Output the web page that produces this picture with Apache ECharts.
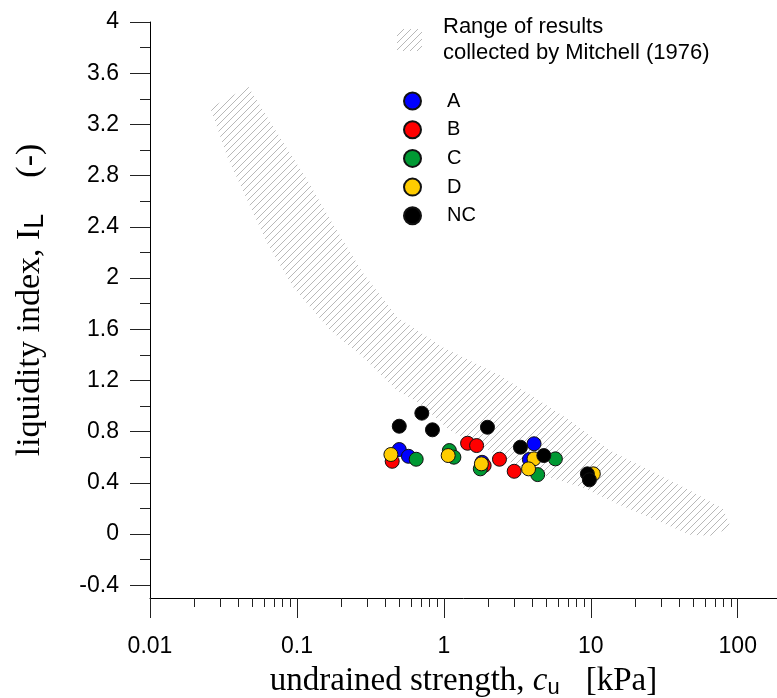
<!DOCTYPE html>
<html>
<head>
<meta charset="utf-8">
<script src="https://cdn.jsdelivr.net/npm/echarts@6/dist/echarts.min.js"></script>
<style>
  html, body { margin: 0; padding: 0; background: #fff; }
  #chart { width: 777px; height: 698px; }
</style>
</head>
<body>
<div id="chart"></div>
<script>
// ---- Data: undrained strength cu [kPa] and liquidity index IL per sample group ----
const groupNames  = ['A', 'B', 'C', 'D', 'NC'];
const groupColors = ['#0000ff', '#ff0000', '#009933', '#ffcc00', '#000000'];

const cuA  = [0.497, 0.574, 1.82, 4.11, 3.82];
const ilA  = [0.660, 0.607, 0.560, 0.705, 0.582];
const cuB  = [0.445, 1.45, 1.67, 1.88, 2.39, 3.01];
const ilB  = [0.568, 0.709, 0.691, 0.535, 0.584, 0.490];
const cuC  = [0.648, 1.09, 1.17, 1.77, 5.74, 4.35];
const ilC  = [0.584, 0.652, 0.600, 0.509, 0.587, 0.464];
const cuD  = [0.436, 1.07, 1.80, 4.11, 3.77, 10.4];
const ilD  = [0.621, 0.613, 0.548, 0.587, 0.509, 0.470];
const cuNC = [0.708, 0.497, 0.836, 1.98, 3.32, 4.79, 9.48, 9.78];
const ilNC = [0.944, 0.842, 0.814, 0.834, 0.678, 0.613, 0.470, 0.423];

// Outline of the Mitchell (1976) range: upper edge left->right, then lower edge right->left
const bandCu = [0.0257, 0.0467, 0.0734, 0.1175, 0.174, 0.2825, 0.481, 0.989, 2.415, 7.23,
                13.5, 25.3, 47.3, 79.4, 90.0,
                64.9, 47.3, 25.3, 15.1, 8.87, 5.55, 3.30, 1.85, 1.10, 0.690, 0.481,
                0.2825, 0.1687, 0.0944, 0.0628, 0.0459, 0.0336, 0.0265];
const bandIL = [3.329, 3.494, 3.133, 2.766, 2.429, 2.038, 1.693, 1.458, 1.239, 0.887,
                0.652, 0.496, 0.339, 0.198, 0.049,
                -0.013, -0.005, 0.128, 0.237, 0.362, 0.433, 0.519, 0.676, 0.809, 1.020, 1.122,
                1.380, 1.591, 1.928, 2.272, 2.609, 2.946, 3.290];
const bandName = 'Range of results\ncollected by Mitchell (1976)';

// ---- Axis ticks ----
const xMin = 0.01, xMax = 185;
const xMajorValues = [0.01, 0.1, 1, 10, 100];
const xMajorLabels = ['0.01', '0.1', '1', '10', '100'];
const xMinorValues = [0.02, 0.03, 0.04, 0.05, 0.06, 0.07, 0.08, 0.09,
                      0.2, 0.3, 0.4, 0.5, 0.6, 0.7, 0.8, 0.9,
                      2, 3, 4, 5, 6, 7, 8, 9,
                      20, 30, 40, 50, 60, 70, 80, 90];
const yMin = -0.5, yMax = 4;
const yMajorValues = [-0.4, 0, 0.4, 0.8, 1.2, 1.6, 2, 2.4, 2.8, 3.2, 3.6, 4];
const yMinorValues = [-0.2, 0.2, 0.6, 1.0, 1.4, 1.8, 2.2, 2.6, 3.0, 3.4, 3.8];

const SANS = 'Arial, "Liberation Sans", sans-serif';
const SERIF = '"Times New Roman", "Liberation Serif", serif';

// Diagonal hatch tile used for the range band
function makeHatch() {
  const t = 7;
  const c = document.createElement('canvas');
  c.width = t; c.height = t;
  const g = c.getContext('2d');
  g.strokeStyle = '#b8b8b8';
  g.lineWidth = 1;
  g.beginPath();
  g.moveTo(0, t); g.lineTo(t, 0);
  g.moveTo(-1, 1); g.lineTo(1, -1);
  g.moveTo(t - 1, t + 1); g.lineTo(t + 1, t - 1);
  g.stroke();
  return { image: c, repeat: 'repeat' };
}
const hatch = makeHatch();

const lg = Math.log10;
const cuSets = [cuA, cuB, cuC, cuD, cuNC];
const ilSets = [ilA, ilB, ilC, ilD, ilNC];

const scatterSeries = groupNames.map((name, k) => ({
  name: name,
  type: 'scatter',
  xAxisIndex: 0,
  yAxisIndex: 0,
  symbol: 'circle',
  symbolSize: 14,
  itemStyle: { color: groupColors[k], borderColor: '#111', borderWidth: 1, opacity: 1 },
  data: cuSets[k].map((c, i) => [c, ilSets[k][i]]),
  z: 5 + k
}));

const bandSeries = {
  name: bandName,
  type: 'custom',
  xAxisIndex: 0,
  yAxisIndex: 0,
  silent: true,
  z: 2,
  itemStyle: { color: hatch },
  data: [[bandCu[0], bandIL[0]]],
  renderItem: function (params, api) {
    const pts = bandCu.map((c, i) => api.coord([c, bandIL[i]]));
    return {
      type: 'polygon',
      shape: { points: pts },
      style: { fill: hatch, stroke: null }
    };
  }
};

const chart = echarts.init(document.getElementById('chart'), null, { renderer: 'canvas' });

chart.setOption({
  animation: false,
  backgroundColor: '#fff',
  grid: { left: 150, top: 22, right: 0, bottom: 100, containLabel: false, outerBoundsMode: 'none' },
  legend: [
    {
      data: [{ name: bandName, icon: 'rect' }],
      orient: 'vertical',
      left: 392, top: 9,
      itemWidth: 25, itemHeight: 22,
      selectedMode: false,
      textStyle: { fontFamily: SANS, fontSize: 22, lineHeight: 26, color: '#000', padding: [0, 0, 0, 16] }
    },
    {
      data: groupNames.map(n => ({ name: n, icon: 'circle' })),
      orient: 'vertical',
      left: 398, top: 86,
      itemWidth: 17, itemHeight: 17, itemGap: 8.7,
      selectedMode: false,
      textStyle: { fontFamily: SANS, fontSize: 20, lineHeight: 17, color: '#000', padding: [0, 0, 0, 21] }
    }
  ],
  xAxis: [
    {
      // data axis (logarithmic)
      type: 'log', logBase: 10, min: xMin, max: xMax, position: 'bottom',
      axisLine: { show: true, onZero: false, lineStyle: { color: '#000', width: 1 } },
      axisTick: { show: false }, axisLabel: { show: false },
      splitLine: { show: false }, minorTick: { show: false },
      name: '{t|undrained strength, }{i|c}{s|u}{k|[kPa]}',
      nameLocation: 'middle', nameGap: 65,
      nameTextStyle: {
        rich: {
          t: { fontFamily: SERIF, fontSize: 33, lineHeight: 36, color: '#000' },
          i: { fontFamily: SERIF, fontSize: 33, lineHeight: 36, fontStyle: 'italic', color: '#000' },
          s: { fontFamily: SANS, fontSize: 22, lineHeight: 22, verticalAlign: 'bottom', color: '#000' },
          k: { fontFamily: SERIF, fontSize: 33, lineHeight: 36, color: '#000', padding: [0, 0, 0, 26] }
        }
      }
    },
    {
      // major decade ticks and labels (log10 space)
      type: 'value', min: lg(xMin), max: lg(xMax), position: 'bottom',
      axisLine: { show: false, onZero: false },
      axisTick: { show: true, length: 20, customValues: xMajorValues.map(lg), lineStyle: { color: '#222', width: 1 } },
      axisLabel: {
        show: true, customValues: xMajorValues.map(lg), margin: 37,
        fontFamily: SANS, fontSize: 23, color: '#000',
        formatter: function (v) {
          let best = 0;
          xMajorValues.forEach((m, i) => { if (Math.abs(lg(m) - v) < Math.abs(lg(xMajorValues[best]) - v)) best = i; });
          return xMajorLabels[best];
        }
      },
      splitLine: { show: false }
    },
    {
      // minor ticks within each decade
      type: 'value', min: lg(xMin), max: lg(xMax), position: 'bottom',
      axisLine: { show: false, onZero: false },
      axisTick: { show: true, length: 9, customValues: xMinorValues.map(lg), lineStyle: { color: '#222', width: 1 } },
      axisLabel: { show: false },
      splitLine: { show: false }
    }
  ],
  yAxis: [
    {
      type: 'value', min: yMin, max: yMax, position: 'left',
      axisLine: { show: true, onZero: false, lineStyle: { color: '#000', width: 1 } },
      axisTick: { show: true, length: 20, customValues: yMajorValues, lineStyle: { color: '#222', width: 1 } },
      axisLabel: { show: true, customValues: yMajorValues, margin: 31, fontFamily: SANS, fontSize: 23, color: '#000' },
      splitLine: { show: false },
      name: '{t|liquidity index, I}{s|L}{p|(-)}',
      nameLocation: 'middle', nameGap: 101,
      nameTextStyle: {
        padding: [0, 0, 0, 20],
        rich: {
          t: { fontFamily: SERIF, fontSize: 34, lineHeight: 38, color: '#000' },
          s: { fontFamily: SANS, fontSize: 27, lineHeight: 27, verticalAlign: 'bottom', color: '#000' },
          p: { fontFamily: SERIF, fontSize: 34, lineHeight: 38, color: '#000', padding: [0, 0, 0, 36] }
        }
      }
    },
    {
      type: 'value', min: yMin, max: yMax, position: 'left',
      axisLine: { show: false, onZero: false },
      axisTick: { show: true, length: 10, customValues: yMinorValues, lineStyle: { color: '#222', width: 1 } },
      axisLabel: { show: false },
      splitLine: { show: false }
    }
  ],
  series: [bandSeries].concat(scatterSeries)
});
</script>
</body>
</html>
